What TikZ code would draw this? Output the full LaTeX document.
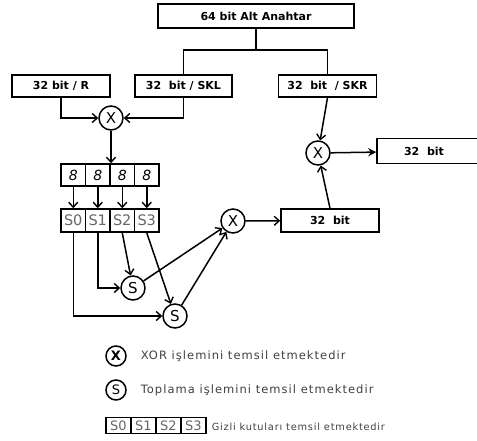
\documentclass[tikz,border=0pt]{standalone}
\usepackage{fontspec}
\setmainfont{DejaVu Sans}
\newfontfamily\legfont[LetterSpace=9]{DejaVu Sans}
\newfontfamily\legfontb[LetterSpace=8]{DejaVu Sans}
\usetikzlibrary{arrows.meta}
\begin{document}
\begin{tikzpicture}[x=1pt,y=-1pt, line width=1.5pt,
  arr/.style={-{Straight Barb[length=5pt,width=9pt,line width=1.4pt]}},
  box/.style={draw, rectangle, inner sep=0pt, font=\bfseries\fontsize{11}{12}\selectfont},
  cell/.style={draw, rectangle, inner sep=0pt, minimum width=24.5pt, minimum height=22pt, font=\itshape\fontsize{14}{15}\selectfont},
  scell/.style={draw, rectangle, inner sep=0pt, minimum width=24.5pt, minimum height=23pt, text=black!60, font=\fontsize{14.5}{15}\selectfont},
  lcell/.style={draw, rectangle, inner sep=0pt, minimum width=25pt, minimum height=16pt, text=black!60, font=\fontsize{13}{13}\selectfont},
  op/.style={draw, circle, inner sep=0pt, minimum size=24pt, font=\fontsize{15}{15}\selectfont},
  lop/.style={draw, circle, inner sep=0pt, minimum size=20pt, font=\fontsize{13}{13}\selectfont},
  legtxt/.style={anchor=west, inner sep=0pt, text=black!75, font=\legfont\fontsize{11.5}{12}\selectfont}]
\useasboundingbox (0,0) rectangle (477,440);
\clip (0,0) rectangle (477,440);
% top boxes
\node[box, minimum width=196pt, minimum height=24pt] (top) at (256,16) {64 bit Alt Anahtar};
\node[box, minimum width=98pt, minimum height=22pt] (r) at (61,86) {32 bit / R};
\node[box, minimum width=97pt, minimum height=22pt] (skl) at (183.5,86) {32~ bit / SKL};
\node[box, minimum width=98pt, minimum height=22pt] (skr) at (327.5,86) {32~ bit~ / SKR};
\coordinate (split) at (256,50);
\draw (top.south) -- (split);
\draw (skl.north) |- (split) -| (skr.north);
% xor 1
\node[op] (x1) at (111,118) {X};
\draw[arr] (r.south) |- (x1);
\draw[arr] (skl.south) |- (x1);
% 8 cells
\node[cell] (e1) at (73.25,175) {8};
\node[cell] (e2) at (97.75,175) {8};
\node[cell] (e3) at (122.25,175) {8};
\node[cell] (e4) at (146.75,175) {8};
\draw[arr] (x1) -- (x1 |- e2.north);
% S cells
\node[scell] (s0) at (73.25,220.5) {S0};
\node[scell] (s1) at (97.75,220.5) {S1};
\node[scell] (s2) at (122.25,220.5) {S2};
\node[scell] (s3) at (146.75,220.5) {S3};
\draw[arr] (e1) -- (s0);
\draw[arr] (e2) -- (s1);
\draw[arr] (e3) -- (s2);
\draw[arr] (e4) -- (s3);
% adds
\node[op] (a1) at (133,288) {S};
\node[op] (a2) at (175,316) {S};
\draw[arr] (s1.south) |- (a1);
\draw[arr] (s0.south) |- (a2);
\draw[arr] (s2.south) -- (a1);
\draw[arr] (s3.south) -- (a2);
% xor 3
\node[op] (x3) at (233,221) {X};
\draw[arr] (a1) -- (x3);
\draw[arr] (a2) -- (x3);
\node[box, minimum width=98pt, minimum height=23pt] (mid) at (330,220.5) {32~ bit};
\draw[arr] (x3) -- (mid);
% xor 2
\node[op] (x2) at (318,153) {X};
\node[box, minimum width=140pt, minimum height=25pt] (out) at (447,151) {};
\node[font=\bfseries\fontsize{11}{12}\selectfont] (outt) at (424,151) {32~ bit};
\draw[arr] (skr.south) -- (x2);
\draw[arr] (mid.north) -- (x2);
\draw[-{Stealth[length=8pt,width=8pt]}] (x2) -- (out);
% legend
\node[lop, font=\bfseries\fontsize{13}{13}\selectfont] (lx) at (116,356) {X};
\node[legtxt] (lxt) at (140,356) {XOR işlemini temsil etmektedir};
\node[lop] (ls) at (116,390) {S};
\node[legtxt] (lst) at (140,390) {Toplama işlemini temsil etmektedir};
\node[lcell] (l0) at (118.5,425.5) {S0};
\node[lcell] (l1) at (143.5,425.5) {S1};
\node[lcell] (l2) at (168.5,425.5) {S2};
\node[lcell] (l3) at (193.5,425.5) {S3};
\node[legtxt, font=\legfontb\fontsize{9.8}{10}\selectfont] (lct) at (211,427) {Gizli kutuları temsil etmektedir};
\end{tikzpicture}
\end{document}
